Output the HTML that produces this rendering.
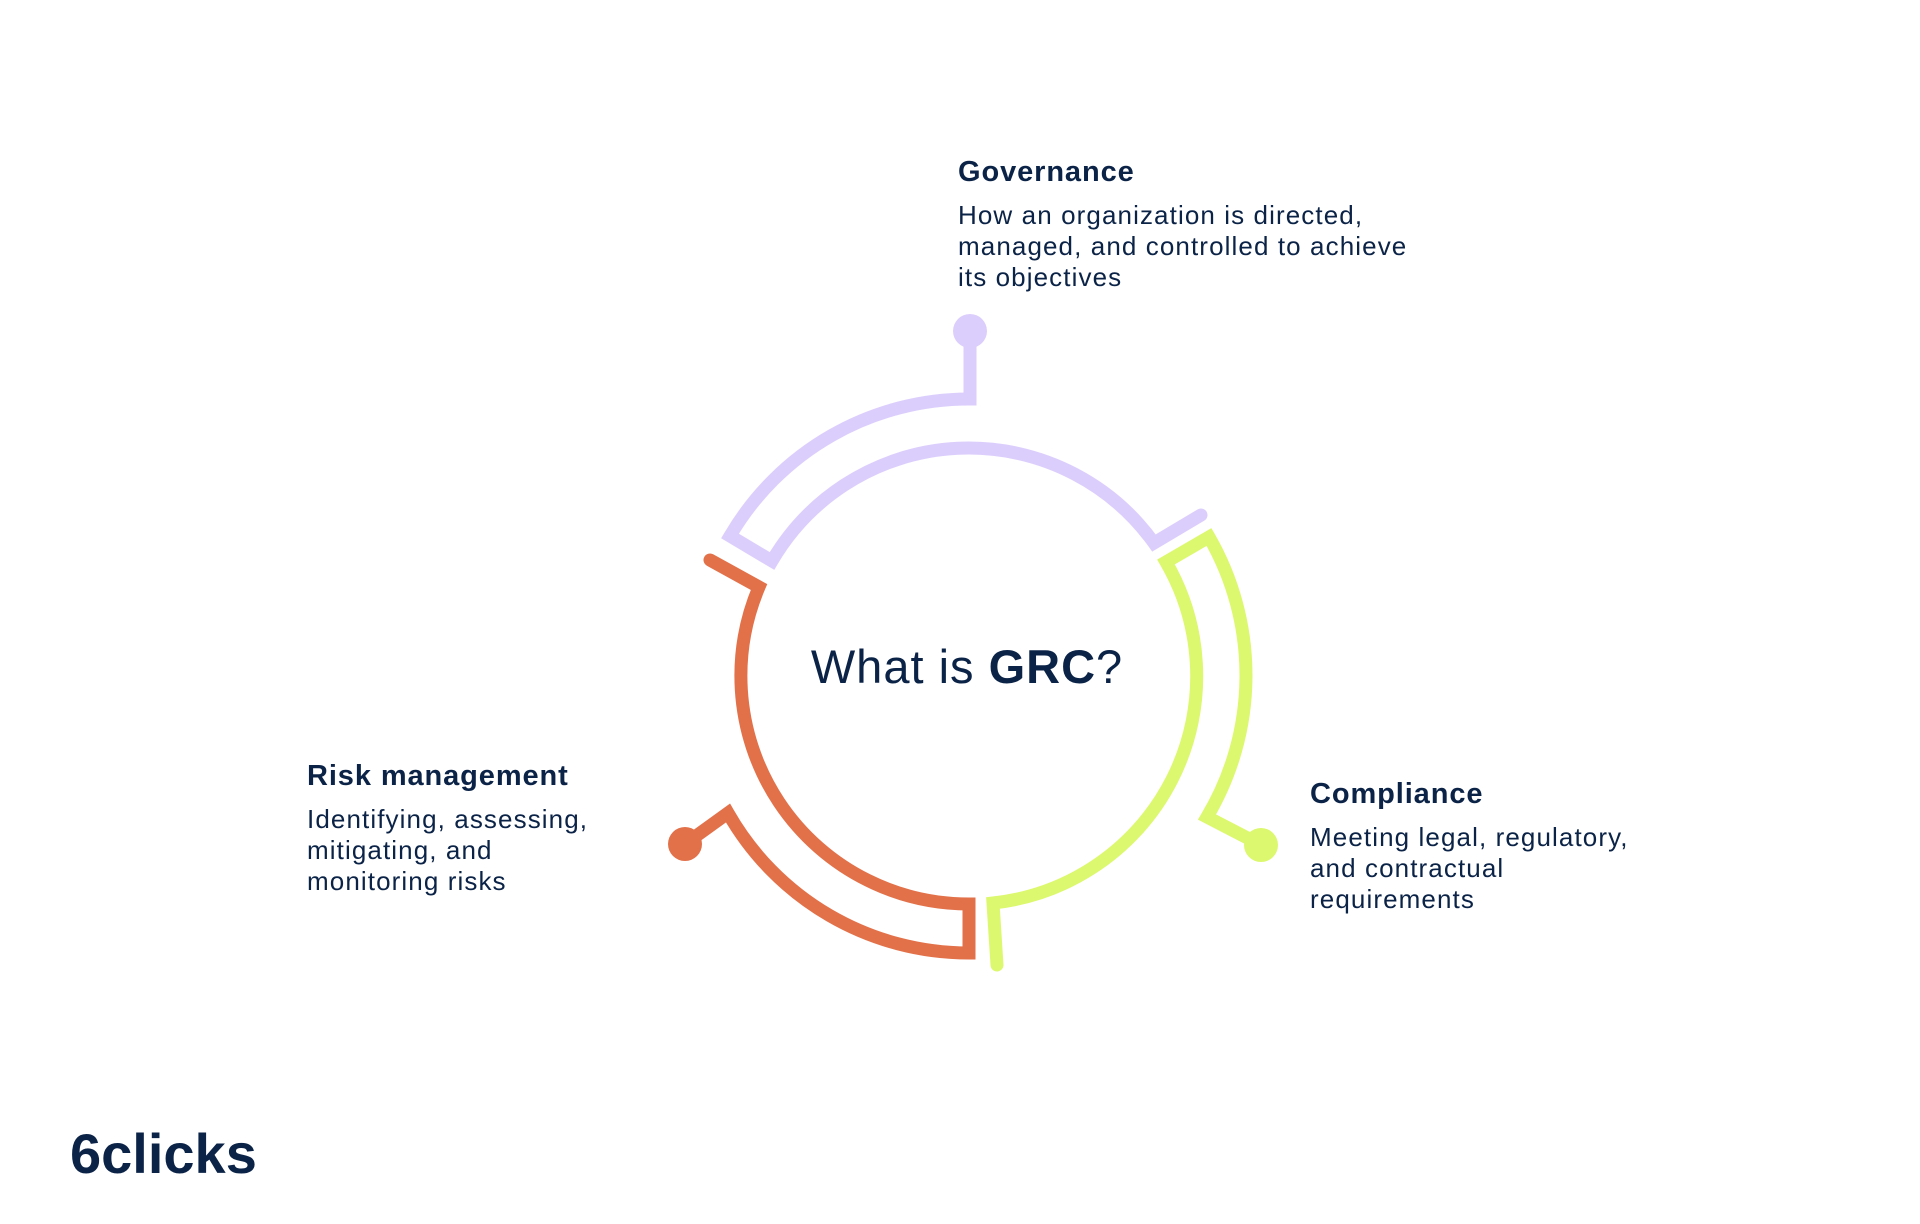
<!DOCTYPE html>
<html><head><meta charset="utf-8"><style>
html,body{margin:0;padding:0;background:#fff;}
body{width:1920px;height:1224px;position:relative;overflow:hidden;font-family:"Liberation Sans",sans-serif;color:#0b2347;}
.t{position:absolute;font-weight:bold;font-size:29px;line-height:28px;white-space:nowrap;letter-spacing:0.9px;}
.b{position:absolute;font-size:26px;line-height:31px;white-space:nowrap;letter-spacing:1.1px;}
</style></head><body>
<svg width="1920" height="1224" style="position:absolute;left:0;top:0">
<g fill="none" stroke-width="13" stroke-linecap="round" stroke-linejoin="miter">
<path d="M1201 515 L1154 543 A228 228 0 0 0 772 561 L730 536 A277 277 0 0 1 970 399 L970 331" stroke="#dccefc"/>
<path d="M710 560 L759 587 A228 228 0 0 0 969 904 L969 953 A277 277 0 0 1 728 813 L685 844" stroke="#e2714a"/>
<path d="M997 965 L993 903 A228 228 0 0 0 1166 562 L1209 537 A277 277 0 0 1 1207 817 L1261 845" stroke="#dcf86e"/>
</g>
<circle cx="970" cy="331" r="17" fill="#dccefc"/>
<circle cx="685" cy="844" r="17" fill="#e2714a"/>
<circle cx="1261" cy="845" r="17" fill="#dcf86e"/>
<text x="967" y="683" text-anchor="middle" font-family="Liberation Sans, sans-serif" font-size="47" letter-spacing="1" fill="#0b2347">What is <tspan font-weight="bold">GRC</tspan>?</text>
<text x="70" y="1173" font-family="Liberation Sans, sans-serif" font-size="56" font-weight="bold" fill="#0b2347">6clicks</text>
</svg>
<div class="t" style="left:958px;top:158px">Governance</div>
<div class="b" style="left:958px;top:200px">How an organization is directed,<br>managed, and controlled to achieve<br>its objectives</div>
<div class="t" style="left:1310px;top:780px">Compliance</div>
<div class="b" style="left:1310px;top:822px">Meeting legal, regulatory,<br>and contractual<br>requirements</div>
<div class="t" style="left:307px;top:762px">Risk management</div>
<div class="b" style="left:307px;top:804px">Identifying, assessing,<br>mitigating, and<br>monitoring risks</div>
</body></html>
